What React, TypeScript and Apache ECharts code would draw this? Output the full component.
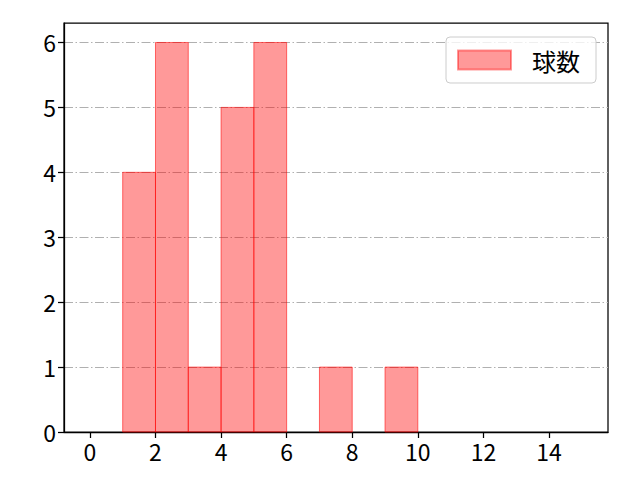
import React, { useEffect, useRef } from "react";
import * as echarts from "echarts";

// histogram bins (left edge) and counts
const binStarts = [1, 2, 3, 4, 5, 6, 7, 8, 9];
const binWidth = 1;
const counts = [4, 6, 1, 5, 6, 0, 1, 0, 1];
const xTicks = [0, 2, 4, 6, 8, 10, 12, 14];
const seriesName = "球数";

const FONT = "'Noto Sans CJK JP', 'DejaVu Sans', sans-serif";

const App: React.FC = () => {
  const chartRef = useRef<HTMLDivElement | null>(null);

  useEffect(() => {
    if (!chartRef.current) return;
    const chart = echarts.init(chartRef.current, undefined, { renderer: "svg" });

    const data = binStarts.map((s, i) => [s, s + binWidth, counts[i]]);

    chart.setOption({
      animation: false,
      textStyle: { fontFamily: FONT },
      grid: {
        left: 64,
        right: 32,
        top: 23,
        bottom: 48,
        show: true,
        borderColor: "#000",
        borderWidth: 1.25,
        backgroundColor: "transparent",
      },
      legend: {
        right: 44,
        top: 37,
        orient: "vertical",
        padding: [11, 16, 11, 11],
        itemWidth: 53,
        itemHeight: 19,
        borderColor: "#cccccc",
        borderWidth: 1,
        borderRadius: 4,
        backgroundColor: "rgba(255,255,255,0.8)",
        textStyle: { fontSize: 24, color: "#000", fontFamily: FONT, padding: [0, 0, 0, 16] },
        data: [{ name: seriesName, icon: "rect" }],
      },
      xAxis: {
        type: "value",
        min: -0.79,
        max: 15.8,
        axisLine: { show: true, onZero: false, lineStyle: { color: "#000", width: 1.25 } },
        axisTick: { show: true, customValues: xTicks, length: 6, lineStyle: { color: "#000", width: 1.25 } },
        axisLabel: { customValues: xTicks, color: "#000", fontSize: 23, margin: 7, fontFamily: FONT },
        splitLine: { show: false },
      },
      yAxis: {
        type: "value",
        min: 0,
        max: 6.3,
        interval: 1,
        axisLine: { show: true, onZero: false, lineStyle: { color: "#000", width: 1.25 } },
        axisTick: { show: true, length: 6, lineStyle: { color: "#000", width: 1.25 } },
        axisLabel: { color: "#000", fontSize: 23, margin: 8, showMaxLabel: false, fontFamily: FONT },
        splitLine: {
          show: true,
          showMaxLine: false,
          lineStyle: { color: "#b0b0b0", width: 1, type: [9, 2.5, 1.5, 2.5] },
        },
      },
      series: [
        {
          name: seriesName,
          type: "custom",
          itemStyle: { color: "rgba(255,0,0,0.4)", borderColor: "rgba(255,0,0,0.4)", borderWidth: 1 },
          encode: { x: [0, 1], y: 2 },
          data,
          renderItem: (params: any, api: any) => {
            const v = api.value(2);
            if (!v) return null;
            const p0 = api.coord([api.value(0), 0]);
            const p1 = api.coord([api.value(1), v]);
            return {
              type: "rect",
              shape: { x: p0[0], y: p1[1], width: p1[0] - p0[0], height: p0[1] - p1[1] },
              style: { fill: "rgba(255,0,0,0.4)", stroke: "rgba(255,0,0,0.55)", lineWidth: 1 },
            };
          },
        },
      ],
    });

    return () => {
      chart.dispose();
    };
  }, []);

  return (
    <div
      ref={chartRef}
      style={{ position: "fixed", left: 0, top: 0, width: 640, height: 480, background: "#fff" }}
    />
  );
};

export default App;
